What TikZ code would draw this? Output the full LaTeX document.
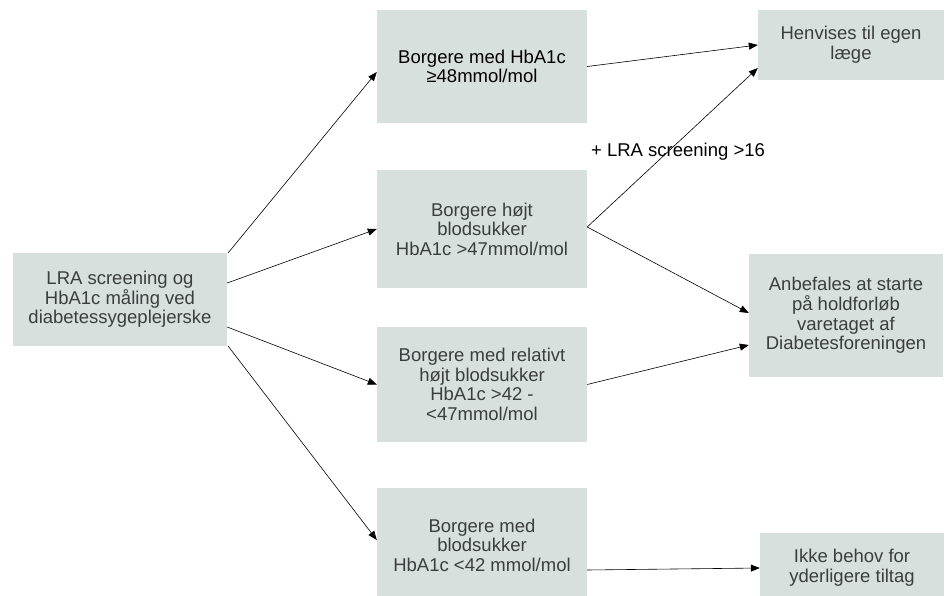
\documentclass[tikz,border=0pt]{standalone}
\usepackage{fontspec}
\setmainfont{Liberation Sans}
\usetikzlibrary{arrows.meta}
\definecolor{boxfill}{HTML}{D8E0DD}
\definecolor{boxtext}{HTML}{3A3E3E}
\begin{document}
\begin{tikzpicture}[x=1pt,y=-1pt,
  box/.style={rectangle, fill=boxfill, draw=none, inner sep=0pt, align=center,
    text=boxtext, font=\fontsize{18.5}{19.6}\selectfont},
  conn/.style={draw=black, line width=0.6pt, -{Triangle[length=9pt,width=7pt]}},
  lbl/.style={inner sep=0pt, font=\fontsize{18.5}{19.6}\selectfont, text=black}]
\useasboundingbox (0,0) rectangle (949,596);
\node[box, minimum width=214pt, minimum height=93pt] (A) at (120,299.5)
  {LRA screening og\\HbA1c måling ved\\diabetessygeplejerske};
\node[box, minimum width=210pt, minimum height=113pt, text=black] (B1) at (482,66.5)
  {Borgere med HbA1c\\≥48mmol/mol};
\node[box, minimum width=210pt, minimum height=118pt] (B2) at (482,229)
  {Borgere højt\\blodsukker\\HbA1c >47mmol/mol};
\node[box, minimum width=210pt, minimum height=115pt] (B3) at (482,384.5)
  {Borgere med relativt\\højt blodsukker\\HbA1c >42 -\\<47mmol/mol};
\node[box, minimum width=210pt, minimum height=114pt] (B4) at (482,545)
  {Borgere med\\blodsukker\\HbA1c <42 mmol/mol};
\node[box, minimum width=186pt, minimum height=70pt] (C1) at (851,45)
  {Henvises til egen\\læge};
\node[box, minimum width=194pt, minimum height=123pt] (C2) at (846,315.5)
  {Anbefales at starte\\på holdforløb\\varetaget af\\Diabetesforeningen};
\node[box, minimum width=184pt, minimum height=70pt] (C3) at (852,568)
  {Ikke behov for\\yderligere tiltag};
\node[lbl] (L) at (678,152) {+ LRA screening >16};
\draw[conn] ([xshift=1pt]A.north east) -- ([yshift=-5.5pt]B1.west);
\draw[conn] ([yshift=16.5pt]A.east) -- (B2.west);
\draw[conn] ([yshift=-27.5pt]A.east) -- (B3.west);
\draw[conn] ([xshift=1pt]A.south east) -- ([yshift=5pt]B4.west);
\draw[conn] (B1.east) -- (C1.west);
\draw[conn] ([yshift=2pt]B2.east) -- ([yshift=-23pt]C1.west);
\draw[conn] ([yshift=2pt]B2.east) -- ([yshift=2.5pt]C2.west);
\draw[conn] (B3.east) -- ([yshift=-29.5pt]C2.west);
\draw[conn] ([yshift=-25pt]B4.east) -- (C3.west);
\end{tikzpicture}
\end{document}
